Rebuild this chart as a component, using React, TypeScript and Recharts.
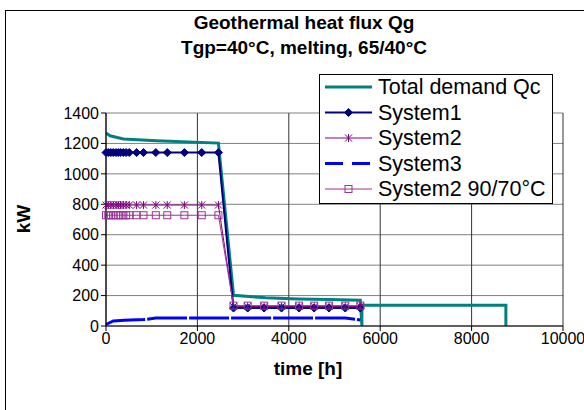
import React from 'react';
import { LineChart, Line, XAxis, YAxis, CartesianGrid, Legend } from 'recharts';

// time [h] and heat flux [kW]
const totalHours = [0, 90, 380, 1110, 2460, 2790, 3500, 4200, 4900, 5565, 5600, 5600, 8750, 8750];
const totalDemand = [1268, 1250, 1229, 1218, 1202, 202, 185, 178, 174, 170, 0, 136, 136, 0];

const stepHours = [0, 50, 105, 160, 220, 270, 320, 380, 440, 510, 670, 820, 1090, 1340, 1715, 2095, 2460,
  2790, 3100, 3460, 3840, 4225, 4555, 4880, 5235, 5565];
const system1 = [1140, 1140, 1140, 1140, 1140, 1140, 1140, 1140, 1140, 1140, 1140, 1140, 1140, 1140, 1140, 1140, 1140,
  118, 118, 118, 118, 118, 118, 118, 118, 118];
const system2 = [795, 795, 795, 795, 795, 795, 795, 795, 795, 795, 795, 795, 795, 795, 795, 795, 795,
  128, 128, 128, 128, 128, 128, 128, 128, 128];
const system2hot = [728, 728, 728, 728, 728, 728, 728, 728, 728, 728, 728, 728, 728, 728, 728, 728, 728,
  134, 134, 134, 134, 134, 134, 134, 134, 134];

const system3Hours = [0, 160, 400, 820, 1090, 2000, 3000, 4000, 5235, 5565];
const system3 = [10, 33, 38, 42, 52, 53, 53, 53, 52, 40];

const seriesNames = ['Total demand Qc', 'System1', 'System2', 'System3', 'System2 90/70°C'];
const xTicks = [0, 2000, 4000, 6000, 8000, 10000];
const yTicks = [0, 200, 400, 600, 800, 1000, 1200, 1400];

const toPoints = (xs: number[], ys: number[]) => xs.map((t, i) => ({ t, v: ys[i] }));

const totalData = toPoints(totalHours, totalDemand);
const sys1Data = toPoints(stepHours, system1);
const sys2Data = toPoints(stepHours, system2);
const sys3Data = toPoints(system3Hours, system3);
const sys2hotData = toPoints(stepHours, system2hot);

const FONT = '"Liberation Sans", Arial, sans-serif';
const TEAL = '#008080';
const NAVY = '#000080';
const PURPLE = '#800080';
const MAGENTA = '#993399';
const BLUE = '#0000ff';

const diamond = (cx: number, cy: number, key?: string) => (
  <polygon key={key} points={`${cx},${cy - 4} ${cx + 4},${cy} ${cx},${cy + 4} ${cx - 4},${cy}`} fill={NAVY} stroke={NAVY} strokeWidth={1} />
);

const asterisk = (cx: number, cy: number, key?: string) => (
  <g key={key} stroke={PURPLE} strokeWidth={1}>
    <line x1={cx - 3.5} y1={cy - 3.5} x2={cx + 3.5} y2={cy + 3.5} />
    <line x1={cx - 3.5} y1={cy + 3.5} x2={cx + 3.5} y2={cy - 3.5} />
    <line x1={cx} y1={cy - 4} x2={cx} y2={cy + 4} />
  </g>
);

const square = (cx: number, cy: number, key?: string) => (
  <rect key={key} x={cx - 3.5} y={cy - 3.5} width={7} height={7} fill="none" stroke={MAGENTA} strokeWidth={1} />
);

const DiamondDot = (p: any) => (p.cx == null ? null : diamond(p.cx, p.cy, `d${p.index}`));
const StarDot = (p: any) => (p.cx == null ? null : asterisk(p.cx, p.cy, `s${p.index}`));
const SquareDot = (p: any) => (p.cx == null ? null : square(p.cx, p.cy, `q${p.index}`));

const LegendBox = () => {
  const rowY = (i: number) => 13 + i * 25.5;
  return (
    <svg width={234} height={130} style={{ display: 'block' }}>
      <rect x={0.5} y={0.5} width={233} height={129} fill="#fff" stroke="#000" strokeWidth={1} />
      {seriesNames.map((name, i) => {
        const y = rowY(i);
        let sample: React.ReactNode = null;
        if (i === 0) sample = <line x1={6} x2={53} y1={y} y2={y} stroke={TEAL} strokeWidth={3} />;
        if (i === 1) sample = <g><line x1={6} x2={53} y1={y} y2={y} stroke={NAVY} strokeWidth={2} />{diamond(29.5, y)}</g>;
        if (i === 2) sample = <g><line x1={6} x2={53} y1={y} y2={y} stroke={PURPLE} strokeWidth={1} />{asterisk(29.5, y)}</g>;
        if (i === 3) sample = <line x1={6} x2={53} y1={y} y2={y} stroke={BLUE} strokeWidth={3} strokeDasharray="18 9" />;
        if (i === 4) sample = <g><line x1={6} x2={53} y1={y} y2={y} stroke={MAGENTA} strokeWidth={1} />{square(29.5, y)}</g>;
        return (
          <g key={name}>
            {sample}
            <text x={59} y={y} dominantBaseline="central" fontFamily={FONT} fontSize={21.5} fill="#000">{name}</text>
          </g>
        );
      })}
    </svg>
  );
};

const YTitle = () => (
  <text x={23} y={219} transform="rotate(-90 23 219)" textAnchor="middle" dominantBaseline="central"
    fontFamily={FONT} fontSize={19} fontWeight="bold" fill="#000">kW</text>
);

const XTitle = () => (
  <text x={308} y={368} textAnchor="middle" dominantBaseline="central"
    fontFamily={FONT} fontSize={19} fontWeight="bold" fill="#000">time [h]</text>
);

export default function App() {
  return (
    <div style={{ position: 'absolute', left: 0, top: 0, width: 584, height: 410, overflow: 'hidden', background: '#fff', fontFamily: FONT }}>
      <div style={{ position: 'absolute', left: 5, top: 10, width: 640, height: 450, border: '1px solid #000' }} />
      <div style={{ position: 'absolute', left: 0, top: 0, width: 584, height: 410 }}>
        <LineChart width={584} height={410} data={totalData} margin={{ top: 113, right: 21, bottom: 54, left: 0 }}>
          <CartesianGrid horizontal vertical={false} stroke="#808080" strokeWidth={1} />
          <CartesianGrid horizontal={false} vertical stroke="#333" strokeWidth={1} />
          <XAxis dataKey="t" type="number" domain={[0, 10000]} ticks={xTicks} height={30}
            axisLine={{ stroke: '#000' }} tickLine={{ stroke: '#000' }} tickSize={5}
            tick={{ fill: '#000', fontSize: 16, fontFamily: FONT }} label={XTitle} />
          <YAxis type="number" domain={[0, 1400]} ticks={yTicks} width={106}
            axisLine={{ stroke: '#000' }} tickLine={{ stroke: '#000' }} tickSize={5}
            tick={{ fill: '#000', fontSize: 16, fontFamily: FONT }} label={YTitle} />
          <Legend layout="horizontal" verticalAlign="middle" align="center" content={LegendBox}
            wrapperStyle={{ left: 319, top: 74, width: 234, height: 130 }} />
          <Line data={totalData} dataKey="v" name={seriesNames[0]} stroke={TEAL} strokeWidth={3} dot={false}
            activeDot={false} isAnimationActive={false} />
          <Line data={sys1Data} dataKey="v" name={seriesNames[1]} stroke={NAVY} strokeWidth={2} dot={DiamondDot}
            activeDot={false} isAnimationActive={false} />
          <Line data={sys2Data} dataKey="v" name={seriesNames[2]} stroke={PURPLE} strokeWidth={1} dot={StarDot}
            activeDot={false} isAnimationActive={false} />
          <Line data={sys3Data} dataKey="v" name={seriesNames[3]} stroke={BLUE} strokeWidth={3} strokeDasharray="40 2"
            dot={false} activeDot={false} isAnimationActive={false} />
          <Line data={sys2hotData} dataKey="v" name={seriesNames[4]} stroke={MAGENTA} strokeWidth={1} dot={SquareDot}
            activeDot={false} isAnimationActive={false} />
        </LineChart>
      </div>
      <div style={{ position: 'absolute', left: 0, width: 608, top: 10, textAlign: 'center', fontSize: 19, fontWeight: 'bold', lineHeight: '25px', color: '#000' }}>
        <div>Geothermal heat flux Qg</div>
        <div>Tgp=40°C, melting, 65/40°C</div>
      </div>
    </div>
  );
}
